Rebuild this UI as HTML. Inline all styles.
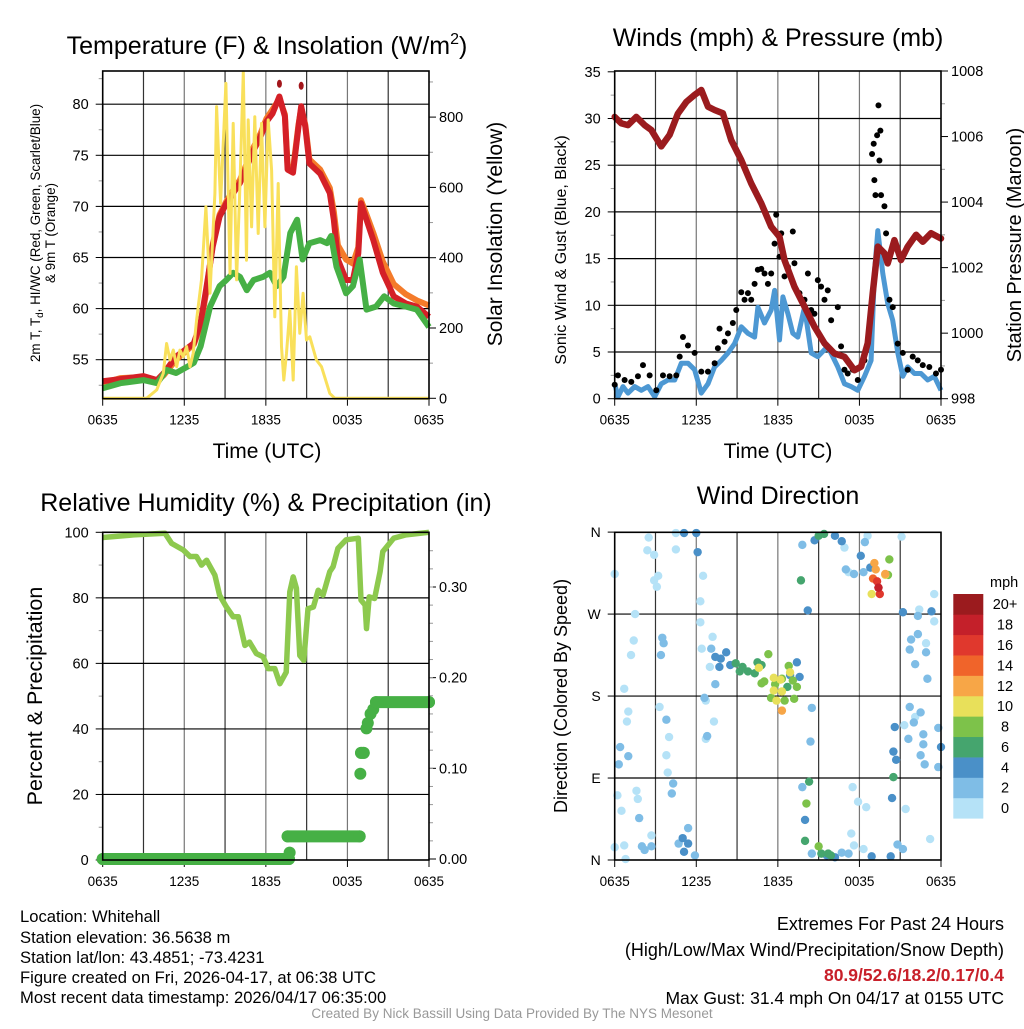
<!DOCTYPE html>
<html><head><meta charset="utf-8"><style>
body{margin:0;background:#fff}
svg text{font-family:"Liberation Sans",Arial,sans-serif;fill:#000}
</style></head><body>
<svg id="s" width="1024" height="1024" viewBox="0 0 1024 1024" xmlns="http://www.w3.org/2000/svg">
<g id="g1"></g>
<g id="g2"></g>
<g id="g3"></g>
<g id="g4"></g>
<g font-size="16.6">
<text x="20" y="922">Location: Whitehall</text>
<text x="20" y="943">Station elevation: 36.5638 m</text>
<text x="20" y="963">Station lat/lon: 43.4851; -73.4231</text>
<text x="20" y="983">Figure created on Fri, 2026-04-17, at 06:38 UTC</text>
<text x="20" y="1003">Most recent data timestamp: 2026/04/17 06:35:00</text>
<text x="1004" y="930" text-anchor="end" font-size="18">Extremes For Past 24 Hours</text>
<text x="1004" y="956" text-anchor="end" font-size="18">(High/Low/Max Wind/Precipitation/Snow Depth)</text>
<text x="1004" y="981" text-anchor="end" font-size="17.5" font-weight="bold" style="fill:#c8202a">80.9/52.6/18.2/0.17/0.4</text>
<text x="1004" y="1004" text-anchor="end" font-size="17.5">Max Gust: 31.4 mph On 04/17 at 0155 UTC</text>
<text x="512" y="1018" text-anchor="middle" font-size="13.5" style="fill:#999">Created By Nick Bassill Using Data Provided By The NYS Mesonet</text>
</g>
</svg>
<script>
// ===== Panel 1 data (hours since 0635 UTC) =====
const tempH=[0,1.3,3,4,4.5,5.4,6.7,7.2,7.6,8.1,8.6,9.1,9.6,10.1,10.6,11.1,11.6,12.05,12.5,13,13.4,13.6,14,14.4,14.6,14.9,15.2,16,16.7,17,17.3,17.9,18.4,18.8,19,19.4,19.9,20.6,21.4,22.3,23.1,24];
const tempRed=[52.9,53.1,53.4,53.0,53.7,55.3,56.6,58.6,61.8,66.1,69.0,70.3,71.3,72.3,73.9,75.5,76.8,78.3,79.1,80.75,78.8,73.6,73.3,77.8,79.8,77.8,74.2,73.2,71.3,68.7,64.8,62.8,62.8,65.4,70.3,68.7,66.7,63.5,61.2,60.5,60.2,59.2];
const tempOrange=[52.7,53.2,53.3,52.9,53.5,55.0,56.5,58.3,61.5,66.3,69.2,70.5,71.6,72.6,74.2,75.8,77.1,78.6,79.5,80.5,79.0,74.0,73.6,78.0,79.6,78.0,74.6,73.6,71.8,69.5,66.2,64.8,64.4,66.0,70.6,69.2,67.4,64.6,62.4,61.4,60.8,60.3];
const dewH=[0,1.3,3,4,4.7,5.4,6.2,6.7,7.2,7.9,8.6,9.1,9.6,10.1,10.6,11.1,11.8,12.3,12.8,13.3,13.8,14.3,14.7,15.2,16,16.5,16.8,17.2,17.9,18.4,18.9,19.4,20.1,20.7,21.4,22.3,23.1,24];
const dewT=[52.2,52.7,53.0,52.7,54.0,53.7,54.3,54.7,56.3,60.2,62.2,62.8,63.5,63.1,61.8,62.8,63.1,63.5,62.2,63.1,67.4,68.7,64.8,66.4,66.7,66.4,67.1,64.1,61.5,62.2,64.8,59.9,60.2,61.2,60.5,60.2,59.9,58.2];
const hiH=[13.0,14.6];
const hiT=[82.0,81.8];
const solH=[0,3.23,3.97,4.46,4.70,4.95,5.19,5.44,5.68,5.93,6.17,6.42,6.66,6.91,7.27,7.59,7.89,8.25,8.38,8.67,9.06,9.36,9.60,9.85,10.09,10.34,10.58,10.70,10.95,11.19,11.44,11.68,11.93,12.17,12.42,12.66,12.91,13.15,13.32,13.52,13.76,14.01,14.25,14.50,14.74,14.99,15.23,15.72,16.09,16.70,17.07,24];
const solW=[0,0,24,71,156,109,137,90,137,118,147,90,128,223,337,545,299,583,830,555,896,355,782,337,602,929,393,792,488,801,469,782,488,792,649,232,611,147,52,128,251,52,374,185,299,166,175,109,90,14,0,0];
const tempTicks=[55,60,65,70,75,80];
const solTicks=[0,200,400,600,800];
const timeTicks=["0635","1235","1835","0035","0635"];
// ===== Panel 2 data =====
const presH=[0,0.49,0.98,1.59,2.2,2.69,3.43,4.04,4.65,5.27,5.88,6.37,6.86,7.35,7.96,8.57,9.31,10.04,10.78,11.51,12.12,12.49,13.22,13.96,14.69,15.43,16.16,16.9,17.63,18.12,18.61,18.98,19.35,19.84,20.08,20.57,21.06,21.55,22.17,22.66,23.27,24];
const presMb=[1006.6,1006.4,1006.35,1006.6,1006.35,1006.2,1005.7,1006.05,1006.7,1007.06,1007.27,1007.42,1006.91,1006.81,1006.71,1005.89,1005.28,1004.57,1003.96,1003.25,1002.94,1002.23,1001.42,1000.81,1000.2,999.69,999.38,999.28,998.87,998.98,999.69,1001.21,1002.64,1002.44,1002.13,1002.84,1002.23,1002.64,1003.0,1002.79,1003.05,1002.89];
const windH=[0,0.24,0.61,0.98,1.47,1.96,2.45,2.94,3.43,3.92,4.41,4.9,5.39,5.88,6.37,6.86,7.35,7.84,8.33,8.82,9.31,9.8,10.29,10.53,11.02,11.51,11.76,12.12,12.37,12.74,13.1,13.47,13.96,14.45,14.94,15.67,16.41,16.9,17.39,17.88,18.37,18.86,19.1,19.35,19.72,20.08,20.45,20.82,21.19,21.55,22.04,22.53,23.02,23.51,24];
const windMph=[1.6,0.2,1.3,0.6,1.3,0.9,1.3,0.2,1.6,2.0,2.0,3.8,3.8,3.1,0.6,1.6,3.4,4.1,4.9,5.9,7.7,7.0,6.6,9.8,8.1,9.5,11.6,6.3,10.9,9.1,7.0,6.6,9.8,4.9,4.5,5.6,3.4,1.6,1.3,0.9,2.4,4.1,13.4,18.0,13.4,10.2,8.4,4.9,2.4,3.4,2.7,2.7,2.0,2.4,0.9];
const gustH=[0,0.24,0.73,1.22,1.71,2.08,2.57,3.06,3.55,4.04,4.53,4.78,5.02,5.39,5.88,6.37,6.86,7.35,7.59,7.71,8.08,8.33,8.69,8.94,9.31,9.55,9.8,10.04,10.29,10.53,10.78,11.02,11.27,11.51,11.76,11.88,12.12,12.25,12.49,12.74,13.1,13.22,13.59,13.96,14.21,14.45,14.69,14.94,15.18,15.43,15.67,15.92,16.41,16.65,16.9,17.14,17.51,17.88,18.37,18.74,18.93,19.05,19.1,19.18,19.3,19.4,19.47,19.54,19.59,19.84,19.96,20.21,20.45,20.82,21.19,21.55,21.92,22.29,22.66,23.14,23.63,24];
const gustMph=[1.5,2.5,2.0,1.8,2.4,3.6,2.5,0.9,2.5,2.4,2.5,4.5,6.6,5.7,4.9,2.9,2.9,3.8,5.4,7.5,6.1,7.0,8.1,9.5,11.4,10.6,11.3,10.6,12.3,13.8,13.9,13.4,12.3,13.4,16.6,19.7,15.2,17.7,13.1,14.1,17.9,14.5,11.3,10.6,13.4,9.5,9.1,12.7,12.0,10.6,11.6,8.4,9.8,5.6,3.1,2.7,3.1,2.0,4.1,7.7,26.2,27.3,23.4,21.8,28.2,31.4,25.5,28.7,21.8,20.6,17.7,10.6,9.8,5.9,4.9,3.1,4.5,4.1,3.6,3.4,2.7,3.1];
const windTicks=[0,5,10,15,20,25,30,35];
const presTicks=[998,1000,1002,1004,1006,1008];
// ===== Panel 3 data =====
const rhH=[0,2.25,4.58,5.07,5.93,6.42,6.9,7.27,7.64,8.25,8.6,9.1,9.6,9.97,10.46,10.8,11.3,11.8,12.17,12.66,13.03,13.5,13.76,14.01,14.25,14.5,14.79,15.1,15.5,15.85,16.2,16.7,16.95,17.3,17.9,18.8,19.0,19.3,19.4,19.6,20.0,20.4,20.6,21.4,22.3,24];
const rhPct=[98.4,99.2,99.7,96.6,94.6,92.6,92.6,90,91.5,86.9,80.8,77.2,74.2,74.2,65.5,66.5,63,62,58.4,58.4,53.8,57.3,81.8,86.4,82.9,62.4,60.9,76.7,77.2,82.3,80.8,88,89.5,95.1,97.7,98.2,79.3,77.8,70.6,80.3,79.8,88,94.1,98.2,99.2,100];
const precipH=[0,13.7,13.75,13.6,18.9,18.95,19.0,19.2,19.4,19.5,19.7,19.9,20.1,24];
const precipIn=[0,0,0.007,0.025,0.025,0.094,0.117,0.117,0.144,0.15,0.16,0.165,0.173,0.173];
const rhTicks=[0,20,40,60,80,100];
const precipTicks=["0.00","0.10","0.20","0.30"];
// ===== Panel 4 data =====
const dirH=[0.0,2.5,2.4,2.9,4.5,4.5,2.9,3.2,3.1,6.5,6.3,1.5,6.3,1.4,1.2,7.2,6.4,7.0,0.7,1.0,0.9,3.3,6.7,7.3,4.0,3.8,1.0,3.9,6.7,0.2,1.6,1.7,0.5,2.7,0.7,0.0,0.8,17.5,17.9,18.5,17.4,17.6,18.3,23.2,21.4,21.1,18.6,16.9,17.2,23.5,22.4,23.5,22.9,22.1,21.3,
3.5,3.6,3.4,7.1,7.4,6.6,3.8,6.8,0.4,0.3,4.3,4.2,1.8,2.0,2.2,2.7,4.7,5.4,5.9,13.8,13.8,18.4,18.3,17.6,17.0,22.3,22.3,21.8,21.7,22.9,22.1,23.0,21.7,22.5,22.0,23.8,22.7,21.6,22.7,22.5,22.8,23.8,21.2,20.8,17.2,16.7,14.5,14.5,14.4,
5.1,6.0,6.1,14.2,16.2,16.7,18.1,18.8,21.2,23.3,13.4,13.6,12.9,7.4,7.8,8.2,8.5,7.7,20.6,20.5,20.7,20.4,14.0,5.0,5.4,5.1,18.9,20.3,16.2,24.0,14.7,15.6,
13.7,15.0,15.4,8.9,9.2,9.4,9.8,10.3,10.5,10.8,12.7,14.3,14.0,20.5,15.7,15.9,15.2,
11.3,10.8,11.0,11.8,12.3,13.1,13.2,12.5,11.5,14.1,15.0,20.1,20.2,12.8,13.4,
10.6,11.7,12.2,12.9,11.7,12.3,11.9,18.9,19.9,
12.3,19.1,19.2,19.9,19.0,19.5,19.3,19.4,19.4];
const dirDeg=[314,354,340,335,359,341,307,312,300,312,284,270,261,241,225,245,232,212,188,163,152,168,175,152,135,115,114,96,133,71,76,67,54,27,16,14,1,80,64,58,29,16,12,23,56,355,356,343,316,292,275,262,238,157,148,
244,238,225,232,193,178,154,136,124,105,84,73,46,15,11,15,18,35,5,80,346,349,316,314,319,268,248,242,231,228,215,199,168,162,151,145,138,133,127,115,105,102,12,17,7,8,7,167,130,
359,359,338,274,356,350,334,321,272,273,217,201,203,223,221,228,214,212,146,119,110,68,44,24,18,9,4,4,3,124,351,5,
307,356,358,216,207,212,207,205,217,214,190,86,21,91,7,5,7,
226,194,196,193,199,197,177,175,178,62,15,313,330,213,190,
211,200,198,206,186,185,175,292,313,
164,326,319,314,309,292,306,299,299];
const dirSpd=[0.5,0.5,0.5,0.5,0.5,0.5,0.5,0.5,0.5,0.5,0.5,0.5,0.5,0.5,0.5,0.5,0.5,0.5,0.5,0.5,0.5,0.5,0.5,0.5,0.5,0.5,2,0.5,0.5,0.5,0.5,0.5,0.5,0.5,0.5,0.5,0.5,0.5,0.5,0.5,0.5,0.5,0.5,0.5,0.5,0.5,0.5,0.5,0.5,0.5,0.5,0.5,0.5,0.5,0.5,
2,2,2,2,2,2,2,2,2,2,2,2,2,2,2,2,2,2,2,2,2,2,2,2,2,2,2,2,2,2,2,2,2,2,2,2,2,2,2,2,2,2,2,2,2,2,2,2,2,
4,4,4,4,4,4,4,4,4,4,4,4,4,4,4,4,4,4,4,4,4,4,4,4,4,4,4,4,4,4,4,4,
6,6,6,6,6,6,6,6,6,6,6,6,6,6,6,6,6,
8,8,8,8,8,8,8,8,8,8,8,8,8,8,8,
10,10,10,10,10,10,10,10,10,
12,12,12,12,14,16,16,18,18];
const dirTicks=["N","E","S","W","N"];
const spdLabels=["0","2","4","6","8","10","12","14","16","18","20+"];
const spdColors=["#b5e2f7","#7fbde6","#4a90c8","#45a56e","#7dc24a","#e8e05a","#f7a647","#f0642a","#e0382d","#c4202a","#9b1b1e"];

const NS="http://www.w3.org/2000/svg";
function mk(par,tag,at,txt){const e=document.createElementNS(NS,tag);for(const k in at)e.setAttribute(k,at[k]);if(txt!==undefined)e.textContent=txt;par.appendChild(e);return e;}
function lineFrom(hs,vs,fx,fy){return hs.map((h,i)=>fx(h).toFixed(1)+","+fy(vs[i]).toFixed(1)).join(" ");}

const L1=102.7,R1=429,L2=614.7,R2=941;
const TOPA=71,BOTA=398.7,TOPB=532.3,BOTB=860;
const hx=(L,R)=>h=>L+h*(R-L)/24;

function frame(g,L,R,T,B){
  for(let k=1;k<8;k++){const x=L+k*(R-L)/8;
    const ln=mk(g,"line",{x1:x,x2:x,y1:T,y2:B,stroke:k%2?"#333":"#777","stroke-width":1.2});
    
    }
  timeTicks.forEach((t,i)=>{const x=L+i*(R-L)/4;
    const tk=mk(g,"line",{x1:x,x2:x,y1:B,y2:B+7,stroke:"#000"});
    
    
    const tx=mk(g,"text",{x:x,y:B+26,"text-anchor":"middle","font-size":13.5},t);
    
    });
}
function border(g,L,R,T,B){const r=mk(g,"rect",{x:L,y:T,width:R-L,height:B-T,fill:"none",stroke:"#000","stroke-width":1.6});
  
  }
function hgrid(g,L,R,y,nm){
  const ln=mk(g,"line",{x1:L,x2:R,y1:y,y2:y,stroke:"#000","stroke-width":1.2});
  
  
}
function ytick(g,x,y,lab,left,nm,fs){
  mk(g,"line",{x1:x,x2:left?x-7:x+7,y1:y,y2:y,stroke:"#000"});
  const t=mk(g,"text",{x:left?x-14:x+10,y:y+5,"text-anchor":left?"end":"start","font-size":fs||14.5},lab);
  
  
}

// ===== Panel 1 =====
(function(){
const g=document.getElementById("g1");const fx=hx(L1,R1);
const fy=T=>359.7-(T-55)*10.22;const fw=W=>398.3-W*0.3515;
frame(g,L1,R1,TOPA,BOTA);
tempTicks.forEach(v=>{hgrid(g,L1,R1,fy(v),'temp');ytick(g,L1,fy(v),String(v),true,'temp');
  mk(g,"line",{x1:L1,x2:L1-4,y1:fy(v+2.5),y2:fy(v+2.5),stroke:"#999"});});
mk(g,"line",{x1:L1,x2:L1-4,y1:fy(52.5),y2:fy(52.5),stroke:"#999"});
solTicks.forEach(v=>ytick(g,R1,fw(v),String(v),false,'insolation'));
[100,300,500,700,900].forEach(v=>mk(g,"line",{x1:R1,x2:R1+4,y1:fw(v),y2:fw(v),stroke:"#999"}));
let p=mk(g,"polyline",{points:lineFrom(tempH,tempOrange,fx,fy),fill:"none",stroke:"#f47b2a","stroke-width":6,"stroke-linejoin":"round"});


p=mk(g,"polyline",{points:lineFrom(tempH,tempRed,fx,fy),fill:"none",stroke:"#d42027","stroke-width":6,"stroke-linejoin":"round"});


p=mk(g,"polyline",{points:lineFrom(dewH,dewT,fx,fy),fill:"none",stroke:"#46b045","stroke-width":6,"stroke-linejoin":"round"});


hiH.forEach((h,i)=>{const c=mk(g,"ellipse",{cx:fx(h),cy:fy(hiT[i]),rx:2.5,ry:4,fill:"#a3161b"});
  
  });
p=mk(g,"polyline",{points:lineFrom(solH,solW,fx,fw),fill:"none",stroke:"#f9e05b","stroke-width":3,"stroke-linejoin":"round"});


border(g,L1,R1,TOPA,BOTA);
let t=mk(g,"text",{x:267,y:54,"text-anchor":"middle","font-size":25},"Temperature (F) & Insolation (W/m");
t.innerHTML+='<tspan dy="-10" font-size="16">2</tspan><tspan dy="10">)</tspan>';


t=mk(g,"text",{x:267,y:458,"text-anchor":"middle","font-size":21},"Time (UTC)");


t=mk(g,"text",{x:0,y:0,"text-anchor":"middle","font-size":13.4,transform:"translate(40,233) rotate(-90)"});
t.innerHTML='2m T, T<tspan dy="3" font-size="10">d</tspan><tspan dy="-3">, HI/WC (Red, Green, Scarlet/Blue)</tspan>';


t=mk(g,"text",{x:0,y:0,"text-anchor":"middle","font-size":13.4,transform:"translate(55,233) rotate(-90)"},"& 9m T (Orange)");


t=mk(g,"text",{x:0,y:0,"text-anchor":"middle","font-size":21,transform:"translate(502,234) rotate(-90)"},"Solar Insolation (Yellow)");


})();

// ===== Panel 2 =====
(function(){
const g=document.getElementById("g2");const fx=hx(L2,R2);
const fy=v=>398.7-v*9.34;const fp=v=>398.7-(v-998)*32.77;
frame(g,L2,R2,TOPA,BOTA);
windTicks.forEach(v=>{if(v>0&&v<35)hgrid(g,L2,R2,fy(v),'wind');ytick(g,L2,fy(v),String(v),true,'wind');
  if(v<35)mk(g,"line",{x1:L2,x2:L2-4,y1:fy(v+2.5),y2:fy(v+2.5),stroke:"#999"});});
presTicks.forEach(v=>{ytick(g,R2,fp(v),String(v),false,'pressure');if(v<1008)mk(g,"line",{x1:R2,x2:R2+4,y1:fp(v+1),y2:fp(v+1),stroke:"#999"});});
let p=mk(g,"polyline",{points:lineFrom(windH,windMph,fx,fy),fill:"none",stroke:"#4d98d3","stroke-width":5,"stroke-linejoin":"round"});


gustH.forEach((h,i)=>{const c=mk(g,"circle",{cx:fx(h),cy:fy(gustMph[i]),r:3,fill:"#000"});
  
  });
p=mk(g,"polyline",{points:lineFrom(presH,presMb,fx,fp),fill:"none",stroke:"#9b1b1e","stroke-width":6.5,"stroke-linejoin":"round","stroke-linecap":"round"});


border(g,L2,R2,TOPA,BOTA);
let t=mk(g,"text",{x:778,y:46,"text-anchor":"middle","font-size":25},"Winds (mph) & Pressure (mb)");


t=mk(g,"text",{x:778,y:458,"text-anchor":"middle","font-size":21},"Time (UTC)");


t=mk(g,"text",{x:0,y:0,"text-anchor":"middle","font-size":16,transform:"translate(566,250) rotate(-90)"},"Sonic Wind & Gust (Blue, Black)");


t=mk(g,"text",{x:0,y:0,"text-anchor":"middle","font-size":20,transform:"translate(1021,245) rotate(-90)"},"Station Pressure (Maroon)");


})();

// ===== Panel 3 =====
(function(){
const g=document.getElementById("g3");const fx=hx(L1,R1);
const fy=v=>860-v*3.277;const fq=v=>859-v*906.7;
frame(g,L1,R1,TOPB,BOTB);
rhTicks.forEach(v=>{if(v>0&&v<100)hgrid(g,L1,R1,fy(v),'rh');ytick(g,L1,fy(v),String(v),true,'rh');
  if(v<100)mk(g,"line",{x1:L1,x2:L1-4,y1:fy(v+10),y2:fy(v+10),stroke:"#999"});});
precipTicks.forEach(v=>ytick(g,R1,fq(+v),v,false,'precip'));
for(let v=0.02;v<0.36;v+=0.02)mk(g,"line",{x1:R1,x2:R1+4,y1:fq(v),y2:fq(v),stroke:"#999"});
let p=mk(g,"polyline",{points:lineFrom(rhH,rhPct,fx,fy),fill:"none",stroke:"#8dc94e","stroke-width":5.5,"stroke-linejoin":"round"});


for(let i=0;i<precipH.length;i++){
  if(i>0&&precipIn[i]===precipIn[i-1]){const s=mk(g,"line",{x1:fx(precipH[i-1]),x2:fx(precipH[i]),y1:fq(precipIn[i]),y2:fq(precipIn[i]),stroke:"#46b045","stroke-width":12,"stroke-linecap":"round"});
    
    }
  const c=mk(g,"circle",{cx:fx(precipH[i]),cy:fq(precipIn[i]),r:6,fill:"#46b045"});
  
  
}
border(g,L1,R1,TOPB,BOTB);
let t=mk(g,"text",{x:266,y:511,"text-anchor":"middle","font-size":25},"Relative Humidity (%) & Precipitation (in)");


t=mk(g,"text",{x:0,y:0,"text-anchor":"middle","font-size":21.5,transform:"translate(42,696) rotate(-90)"},"Percent & Precipitation");


})();

// ===== Panel 4 =====
(function(){
const g=document.getElementById("g4");const fx=hx(L2,R2);
const fy=d=>860-d*0.9108;
frame(g,L2,R2,TOPB,BOTB);
dirTicks.forEach((d,i)=>{const y=fy(i*90);if(i>0&&i<4)hgrid(g,L2,R2,y,'direction');ytick(g,L2,y,d,true,'direction',14);});
dirH.forEach((h,i)=>{const idx=Math.min(10,Math.floor((dirSpd[i]+1)/2));
  const c=mk(g,"circle",{cx:fx(h),cy:fy(dirDeg[i]),r:4.2,fill:spdColors[idx]});
  
  });
border(g,L2,R2,TOPB,BOTB);
let t=mk(g,"text",{x:778,y:504,"text-anchor":"middle","font-size":25},"Wind Direction");


t=mk(g,"text",{x:0,y:0,"text-anchor":"middle","font-size":18,transform:"translate(567,696) rotate(-90)"},"Direction (Colored By Speed)");


const bh=224.3/11;
t=mk(g,"text",{x:990,y:587,"text-anchor":"start","font-size":14.5},"mph");


spdLabels.forEach((lab,i)=>{const y=818.3-(i+1)*bh;
  const r=mk(g,"rect",{x:953.3,y:y,width:30,height:bh+0.3,fill:spdColors[i]});
  
  
  const tx=mk(g,"text",{x:1005,y:y+bh/2+5,"text-anchor":"middle","font-size":14.5},lab);
  
  });
})();
</script>
</body></html>
